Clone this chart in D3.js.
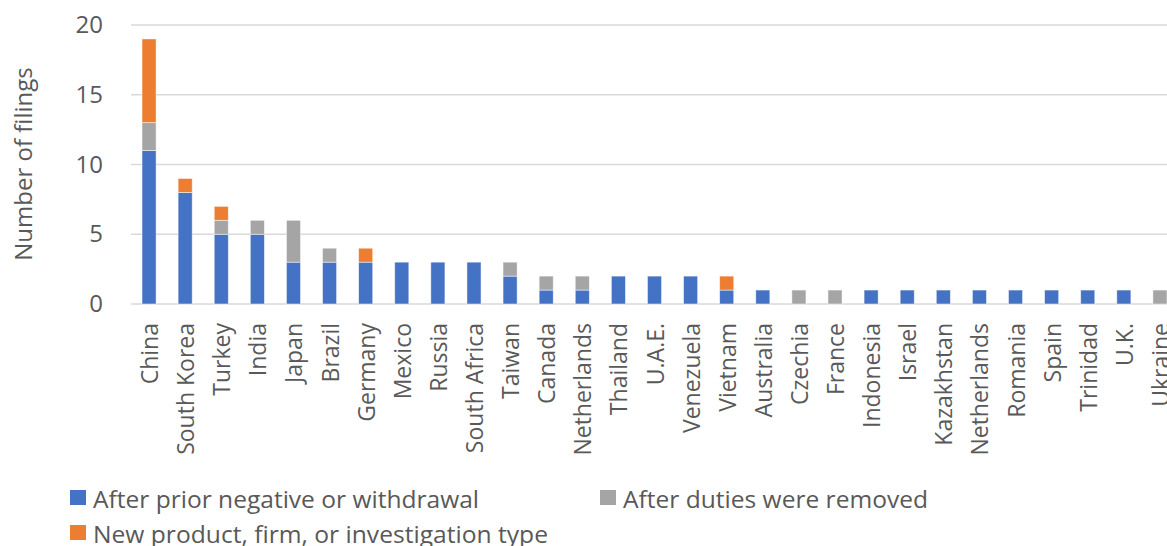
<!DOCTYPE html>
<html>
<head>
<meta charset="utf-8">
<script src="https://cdn.jsdelivr.net/npm/d3@7"></script>
<style>
  body { margin: 0; background: #fff; }
  text { font-family: "Open Sans", sans-serif; fill: #595959; }
</style>
</head>
<body>
<div id="chart"></div>
<script>
// chart data
const countries = ["China", "South Korea", "Turkey", "India", "Japan", "Brazil", "Germany", "Mexico", "Russia",
  "South Africa", "Taiwan", "Canada", "Netherlands", "Thailand", "U.A.E.", "Venezuela", "Vietnam", "Australia",
  "Czechia", "France", "Indonesia", "Israel", "Kazakhstan", "Netherlands", "Romania", "Spain", "Trinidad", "U.K.", "Ukraine"];
const priorNegative = [11, 8, 5, 5, 3, 3, 3, 3, 3, 3, 2, 1, 1, 2, 2, 2, 1, 1, 0, 0, 1, 1, 1, 1, 1, 1, 1, 1, 0];
const dutiesRemoved = [2, 0, 1, 1, 3, 1, 0, 0, 0, 0, 1, 1, 1, 0, 0, 0, 0, 0, 1, 1, 0, 0, 0, 0, 0, 0, 0, 0, 1];
const newProduct    = [6, 1, 1, 0, 0, 0, 1, 0, 0, 0, 0, 0, 0, 0, 0, 0, 1, 0, 0, 0, 0, 0, 0, 0, 0, 0, 0, 0, 0];
const seriesNames = ["After prior negative or withdrawal", "After duties were removed", "New product, firm, or investigation type"];
const yTicks = [0, 5, 10, 15, 20];

const width = 1167, height = 546;
const colors = ["#4472C4", "#A5A5A5", "#ED7D31"];

const svg = d3.select("#chart").append("svg")
  .attr("width", width)
  .attr("height", height);

const rows = countries.map(function(c, i) {
  return {i: i, name: c, s0: priorNegative[i], s1: dutiesRemoved[i], s2: newProduct[i]};
});

const x = d3.scaleBand().domain(rows.map(d => d.i)).range([131, 1178]).paddingInner(0.61).paddingOuter(0.305);
const y = d3.scaleLinear().domain([0, 20]).range([304, 25]);

// gridlines
svg.append("g")
  .selectAll("line")
  .data(yTicks)
  .join("line")
    .attr("x1", 131)
    .attr("x2", 1178)
    .attr("y1", d => y(d))
    .attr("y2", d => y(d))
    .attr("stroke", "#D9D9D9")
    .attr("stroke-width", 1.5);

// y tick labels
const yAxis = d3.axisLeft(y).tickValues(yTicks).tickSize(0).tickPadding(0);
svg.append("g")
  .attr("transform", "translate(103,0)")
  .call(yAxis)
  .call(g => g.select(".domain").remove())
  .selectAll("text")
    .attr("font-size", 24)
    .style("font-family", "Open Sans")
    .attr("fill", "#595959");

// axis title
svg.append("text")
  .attr("transform", "translate(22,164) rotate(-90)")
  .attr("text-anchor", "middle")
  .attr("dominant-baseline", "central")
  .attr("font-size", 24)
  .text("Number of filings");

// stacked bars
const stack = d3.stack().keys(["s0", "s1", "s2"]);
const layers = stack(rows);

svg.append("g")
  .selectAll("g")
  .data(layers)
  .join("g")
    .attr("fill", (d, i) => colors[i])
  .selectAll("rect")
  .data(d => d.filter(p => p[1] > p[0]))
  .join("rect")
    .attr("x", d => x(d.data.i))
    .attr("width", x.bandwidth())
    .attr("y", d => y(d[1]))
    .attr("height", d => y(d[0]) - y(d[1]))
    .attr("stroke", "#ffffff")
    .attr("stroke-opacity", 0.6)
    .attr("stroke-width", 0.8);

// category labels
svg.append("g")
  .selectAll("text")
  .data(rows)
  .join("text")
    .attr("transform", d => "translate(" + (x(d.i) + x.bandwidth() / 2) + ",323) rotate(-90)")
    .attr("text-anchor", "end")
    .attr("dominant-baseline", "central")
    .attr("font-size", 23)
    .text(d => d.name);

// legend
const legendPos = [{x: 70, y: 490, tx: 93, len: 386}, {x: 600, y: 490, tx: 623, len: 305}, {x: 70, y: 525, tx: 93, len: 455}];
const legend = svg.append("g")
  .selectAll("g")
  .data(seriesNames)
  .join("g");

legend.append("rect")
  .attr("x", (d, i) => legendPos[i].x)
  .attr("y", (d, i) => legendPos[i].y)
  .attr("width", 16)
  .attr("height", 15)
  .attr("fill", (d, i) => colors[i]);

legend.append("text")
  .attr("x", (d, i) => legendPos[i].tx)
  .attr("y", (d, i) => legendPos[i].y + 8)
  .attr("dominant-baseline", "central")
  .attr("font-size", 24)
  .attr("textLength", (d, i) => legendPos[i].len)
  .attr("lengthAdjust", "spacingAndGlyphs")
  .text(d => d);
</script>
</body>
</html>
